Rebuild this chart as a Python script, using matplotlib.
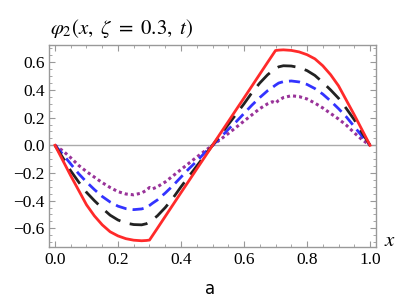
import matplotlib
matplotlib.use("Agg")
import matplotlib.pyplot as plt
from matplotlib.ticker import MultipleLocator, FixedLocator

plt.rcParams['mathtext.fontset'] = 'stix'
plt.rcParams['font.family'] = ['Liberation Serif', 'DejaVu Serif']
plt.rcParams['axes.unicode_minus'] = True

x = [0.0, 0.025, 0.05, 0.075, 0.1, 0.125, 0.15, 0.175, 0.2, 0.225, 0.25, 0.275, 0.29, 0.3, 0.31,
     0.325, 0.35, 0.375, 0.4, 0.425, 0.45, 0.475, 0.5,
     0.525, 0.55, 0.575, 0.6, 0.625, 0.65, 0.675, 0.69, 0.7, 0.71,
     0.725, 0.75, 0.775, 0.8, 0.825, 0.85, 0.875, 0.9, 0.925, 0.95, 0.975, 1.0]

red = [0.0, -0.11, -0.22, -0.325, -0.43, -0.51, -0.575, -0.625, -0.655, -0.675, -0.686, -0.69, -0.688, -0.685, -0.651,
       -0.6, -0.514, -0.428, -0.342, -0.257, -0.171, -0.086, 0.0,
       0.086, 0.171, 0.257, 0.342, 0.428, 0.514, 0.6, 0.651, 0.685, 0.688,
       0.69, 0.686, 0.675, 0.655, 0.625, 0.575, 0.51, 0.43, 0.325, 0.22, 0.11, 0.0]

black = [0.0, -0.09, -0.185, -0.265, -0.34, -0.40, -0.455, -0.505, -0.54, -0.562, -0.573, -0.575, -0.567, -0.555, -0.538,
         -0.51, -0.45, -0.38, -0.30, -0.225, -0.15, -0.075, 0.0,
         0.075, 0.15, 0.225, 0.30, 0.38, 0.45, 0.51, 0.538, 0.555, 0.567,
         0.575, 0.573, 0.562, 0.54, 0.505, 0.455, 0.40, 0.34, 0.265, 0.185, 0.09, 0.0]

blue = [0.0, -0.065, -0.135, -0.205, -0.265, -0.32, -0.37, -0.41, -0.44, -0.458, -0.465, -0.46, -0.45, -0.435, -0.418,
        -0.395, -0.345, -0.29, -0.23, -0.17, -0.115, -0.055, 0.0,
        0.055, 0.115, 0.17, 0.23, 0.29, 0.345, 0.395, 0.418, 0.435, 0.45,
        0.46, 0.465, 0.458, 0.44, 0.41, 0.37, 0.32, 0.265, 0.205, 0.135, 0.065, 0.0]

purple = [0.0, -0.04, -0.09, -0.145, -0.19, -0.23, -0.27, -0.305, -0.335, -0.352, -0.358, -0.345, -0.325, -0.305, -0.315,
          -0.30, -0.265, -0.22, -0.175, -0.13, -0.085, -0.042, 0.0,
          0.042, 0.085, 0.13, 0.175, 0.22, 0.265, 0.30, 0.315, 0.305, 0.325,
          0.345, 0.358, 0.352, 0.335, 0.305, 0.27, 0.23, 0.19, 0.145, 0.09, 0.04, 0.0]

xticks = [0.0, 0.2, 0.4, 0.6, 0.8, 1.0]
yticks = [-0.6, -0.4, -0.2, 0.0, 0.2, 0.4, 0.6]

fig = plt.figure(figsize=(4.09, 3.07), dpi=100)
ax = fig.add_axes([49/409, 1-246.7/307, (375.7-49)/409, (246.7-45)/307])

ax.axhline(0, color='#aaaaaa', lw=1.0, zorder=1)
ax.plot(x, purple, color='#993399', lw=2.2, linestyle=(0, (1.0, 1.0)), zorder=2)
ax.plot(x, blue, color='#3333ff', lw=2.0, linestyle=(0, (4.0, 2.2)), zorder=3)
ax.plot(x, black, color='#222222', lw=2.0, linestyle=(0, (6.5, 3.5)), zorder=4)
ax.plot(x, red, color='#ff2a2a', lw=2.0, linestyle='-', zorder=5)

ax.set_xlim(-0.019, 1.018)
ax.set_ylim(-0.733, 0.725)
ax.xaxis.set_major_locator(FixedLocator(xticks))
ax.yaxis.set_major_locator(FixedLocator(yticks))
ax.xaxis.set_minor_locator(MultipleLocator(0.05))
ax.yaxis.set_minor_locator(MultipleLocator(0.05))
ax.set_xticklabels([f"{v:.1f}" for v in xticks], family='Liberation Serif', fontsize=12.5)
ax.set_yticklabels([f"{v:.1f}".replace('-', '\u2212') for v in yticks], family='Liberation Serif', fontsize=12.5)

for s in ax.spines.values():
    s.set_color('#999999')
    s.set_linewidth(1.0)
ax.tick_params(which='both', direction='in', top=True, right=True, color='#999999')
ax.tick_params(which='major', length=4, width=0.8)
ax.tick_params(which='minor', length=2, width=0.6)
ax.tick_params(axis='x', pad=4)
ax.tick_params(axis='y', pad=3)

fig.text(50/409, 1-28/307, r'$\varphi_2(x,\ \zeta\ =\ 0.3,\ t)$', fontsize=15, ha='left', va='center')
fig.text(390/409, 1-242/307, r'$x$', fontsize=15, ha='center', va='center')
fig.text(210/409, 1-289/307, 'a', fontsize=12, ha='center', va='center', family='DejaVu Sans')

fig.savefig('out.png', dpi=100)
